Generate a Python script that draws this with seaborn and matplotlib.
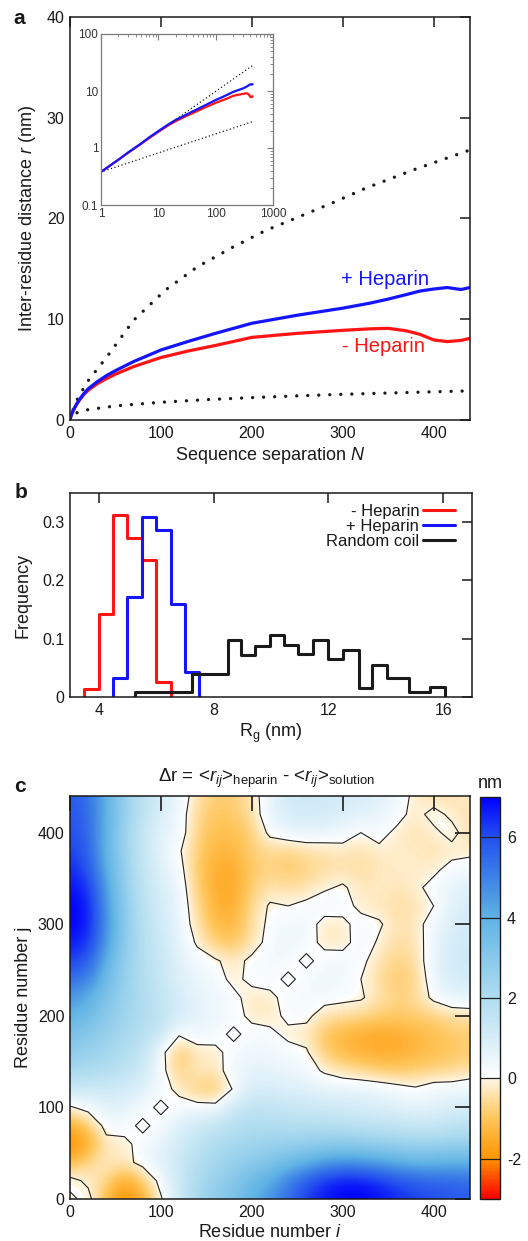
import numpy as np
import matplotlib
matplotlib.use("Agg")
import matplotlib.pyplot as plt
import seaborn as sns
from matplotlib.colors import LinearSegmentedColormap, Normalize
from matplotlib.ticker import LogLocator, NullFormatter, FixedLocator, FixedFormatter

# ---------------------------------------------------------------- data
# (a) mean inter-residue distance vs. sequence separation
separation = [0, 1, 2, 3, 5, 7, 10, 15, 20, 30, 40, 50, 70, 100, 130, 160, 200,
              250, 300, 330, 350, 370, 385, 400, 415, 430, 440]
r_plus_heparin = [0, 0.38, 0.62, 0.84, 1.2, 1.55, 1.98, 2.6, 3.1, 3.8, 4.4, 4.9, 5.8,
                  6.95, 7.8, 8.6, 9.6, 10.4, 11.1, 11.6, 12.0, 12.45, 12.8, 13.0,
                  13.15, 12.95, 13.15]
r_minus_heparin = [0, 0.38, 0.62, 0.83, 1.18, 1.5, 1.92, 2.5, 2.95, 3.6, 4.1, 4.55, 5.3,
                   6.2, 6.85, 7.4, 8.2, 8.6, 8.9, 9.05, 9.1, 8.85, 8.5, 7.95,
                   7.78, 7.9, 8.1]

# reference chains (dotted)
coil_sep = [0, 5, 10, 20, 40, 70, 105, 140, 180, 215, 250, 290, 325, 380, 440]
coil_r = [0, 1.5, 2.4, 3.9, 6.2, 9.9, 12.9, 15.2, 17.2, 18.8, 20.1, 21.6, 23.0, 24.9, 26.8]
globule_sep = [0, 1, 5, 20, 50, 100, 150, 200, 250, 300, 350, 400, 440]
globule_r = [0, 0.38, 0.65, 1.03, 1.40, 1.76, 2.02, 2.22, 2.40, 2.55, 2.68, 2.80, 2.89]

# inset scaling lines (log-log)
inset_line_sep = [1, 440]
inset_coil_r = [0.38, 28.0]
inset_globule_r = [0.38, 2.9]

# (b) radius of gyration distributions
minus_edges = [3.5, 4.0, 4.5, 5.0, 5.5, 6.0, 6.5]
minus_freq = [0.013, 0.143, 0.312, 0.272, 0.235, 0.026]
plus_edges = [4.5, 5.0, 5.5, 6.0, 6.5, 7.0, 7.5]
plus_freq = [0.032, 0.172, 0.309, 0.287, 0.160, 0.043]
coil_edges = [5.25, 7.25, 8.5, 8.95, 9.45, 9.95, 10.45, 10.95, 11.45, 12.0, 12.5,
              13.05, 13.5, 14.05, 14.8, 15.55, 16.05]
coil_freq = [0.008, 0.040, 0.098, 0.072, 0.088, 0.106, 0.089, 0.073, 0.098, 0.066,
             0.081, 0.015, 0.055, 0.032, 0.009, 0.018]

# (c) distance difference map, sampled every 20 residues; row k holds
# residue j = 20k against residues i = 0, 20, ..., j (the map is symmetric)
residue_grid = list(range(0, 441, 20))
delta_r_rows = [
    [-0.2],
    [0.3, -0.2],
    [-1.3, -0.6, -0.2],
    [-2.1, -1.6, -0.3, -0.2],
    [-1.5, -0.9, 0.3, 0.3, -0.2],
    [-0.1, 0.3, 0.8, 0.6, 0.3, -0.2],
    [1.3, 1.2, 1.2, 1.1, 0.8, 0.3, -0.2],
    [2.2, 2.1, 1.9, 1.6, 1.2, 0.3, -0.8, -0.2],
    [2.8, 2.6, 2.3, 2.0, 1.5, 0.3, -1.0, -0.3, -0.2],
    [3.3, 3.0, 2.6, 2.2, 1.8, 1.3, 0.1, 0.4, 0.3, -0.2],
    [4.0, 3.6, 2.9, 2.4, 2.0, 1.6, 1.0, 0.7, 0.4, 0.3, -0.2],
    [4.6, 4.1, 3.2, 2.5, 2.0, 1.5, 1.0, 0.6, 0.4, 0.2, -0.3, -0.2],
    [5.4, 5.0, 3.6, 2.6, 1.9, 1.4, 0.8, 0.5, 0.3, -0.2, 0.2, 0.3, -0.2],
    [6.2, 5.8, 4.0, 2.7, 1.9, 1.3, 0.8, 0.3, 0.1, -0.3, 0.2, 0.3, 0.3, -0.2],
    [6.7, 6.4, 4.5, 2.8, 1.9, 1.2, 0.6, -0.1, -0.8, -1.0, -0.4, 0.3, 0.4, 0.3, -0.2],
    [7.0, 6.7, 4.7, 2.9, 1.8, 1.1, 0.6, -0.4, -1.2, -1.3, -0.5, 0.2, 0.3, 0.4, -0.3, -0.2],
    [7.0, 6.7, 4.6, 2.8, 1.7, 1.0, 0.6, -0.6, -1.4, -1.5, -0.6, 0.1, 0.0, 0.2, 0.4,
     0.3, -0.2],
    [6.8, 6.4, 4.4, 2.7, 1.6, 0.9, 0.5, -0.8, -1.5, -1.6, -0.8, -0.4, -0.5, -0.4, -0.1,
     0.1, -0.3, -0.2],
    [6.5, 6.0, 4.1, 2.6, 1.5, 0.8, 0.3, -0.9, -1.5, -1.5, -0.9, -0.7, -0.9, -0.7, -0.5,
     -0.4, -0.5, -0.3, -0.2],
    [6.2, 5.7, 3.9, 2.5, 1.4, 0.6, 0.1, -0.8, -1.3, -1.3, -0.8, -0.6, -0.7, -0.5, -0.4,
     -0.3, -0.4, -0.2, -0.2, -0.2],
    [6.0, 5.6, 3.9, 2.5, 1.4, 0.7, 0.4, -0.7, -1.1, -1.1, -0.8, 0.2, 0.5, 0.6, 0.5, 0.4,
     0.0, 0.3, -0.2, -0.4, -0.2],
    [5.9, 5.5, 4.0, 2.6, 1.6, 0.9, 0.4, -0.6, -1.0, -0.9, -0.5, 0.6, 1.0, 1.1, 1.0, 0.9,
     0.7, 0.6, 0.3, -0.3, 0.3, -0.2],
    [5.8, 5.4, 4.0, 2.6, 1.7, 1.0, 0.5, -0.4, -0.8, -0.8, -0.4, 0.6, 1.1, 1.3, 1.2, 1.1,
     1.0, 0.8, 0.4, -0.2, -0.5, -0.4, -0.2],
]
colorbar_ticks = [-2, 0, 2, 4, 6]

# ---------------------------------------------------------------- style
sns.set_style("white")
plt.rcParams["font.family"] = ["Liberation Sans", "DejaVu Sans"]
plt.rcParams["mathtext.fontset"] = "custom"
plt.rcParams["mathtext.rm"] = "Liberation Sans"
plt.rcParams["mathtext.it"] = "Liberation Sans:italic"
plt.rcParams["mathtext.bf"] = "Liberation Sans:bold"
plt.rcParams["axes.unicode_minus"] = False
plt.rcParams["text.color"] = "#1a1a1a"
plt.rcParams["axes.labelcolor"] = "#1a1a1a"
plt.rcParams["xtick.color"] = "#1a1a1a"
plt.rcParams["ytick.color"] = "#1a1a1a"

BLUE = "#1414ff"
RED = "#ff1414"
INK = "#1a1a1a"

W, H = 528, 1241
fig = plt.figure(figsize=(W / 100, H / 100), dpi=100)


def box(left, top, right, bottom):
    return [left / W, 1 - bottom / H, (right - left) / W, (bottom - top) / H]


def frame(ax, lw=1.1, color=INK):
    for s in ax.spines.values():
        s.set_visible(True)
        s.set_linewidth(lw)
        s.set_color(color)


# ---------------------------------------------------------------- (a)
ax_a = fig.add_axes(box(70, 17, 470, 420))
frame(ax_a)
dot_big = dict(linestyle=(0, (0.01, 3.3)), dash_capstyle="round", linewidth=2.4)
sns.lineplot(x=coil_sep, y=coil_r, ax=ax_a, color=INK, estimator=None, **dot_big)
sns.lineplot(x=globule_sep, y=globule_r, ax=ax_a, color=INK, estimator=None, **dot_big)
sns.lineplot(x=separation, y=r_minus_heparin, ax=ax_a, color=RED, lw=2.3, estimator=None)
sns.lineplot(x=separation, y=r_plus_heparin, ax=ax_a, color=BLUE, lw=2.3, estimator=None)
ax_a.set_xlim(0, 440)
ax_a.set_ylim(0, 40)
ax_a.set_xticks([0, 100, 200, 300, 400])
ax_a.set_yticks([0, 10, 20, 30, 40])
ax_a.tick_params(direction="in", length=7, width=1.1, labelsize=11.5, top=True,
                 right=True, pad=4)
ax_a.set_xlabel("Sequence separation $N$", fontsize=13, labelpad=3)
ax_a.set_ylabel("Inter-residue distance $r$ (nm)", fontsize=13, labelpad=6)
ax_a.text(347, 13.9, "+ Heparin", color=BLUE, fontsize=14.5, ha="center", va="center")
ax_a.text(345, 7.3, "- Heparin", color=RED, fontsize=14.5, ha="center", va="center")

# inset: same curves on log-log axes
ax_in = fig.add_axes(box(101, 34, 273, 205))
frame(ax_in, lw=0.9, color="#7a7a7a")
dot_small = dict(linestyle=(0, (0.01, 2.4)), dash_capstyle="round", linewidth=1.1)
sns.lineplot(x=inset_line_sep, y=inset_coil_r, ax=ax_in, color=INK, estimator=None,
             **dot_small)
sns.lineplot(x=inset_line_sep, y=inset_globule_r, ax=ax_in, color=INK, estimator=None,
             **dot_small)
sns.lineplot(x=separation[1:], y=r_minus_heparin[1:], ax=ax_in, color=RED, lw=1.6,
             estimator=None)
sns.lineplot(x=separation[1:], y=r_plus_heparin[1:], ax=ax_in, color=BLUE, lw=1.6,
             estimator=None)
ax_in.set_xscale("log")
ax_in.set_yscale("log")
ax_in.set_xlim(1, 1000)
ax_in.set_ylim(0.1, 100)
ax_in.xaxis.set_major_locator(FixedLocator([1, 10, 100, 1000]))
ax_in.xaxis.set_major_formatter(FixedFormatter(["1", "10", "100", "1000"]))
ax_in.yaxis.set_major_locator(FixedLocator([0.1, 1, 10, 100]))
ax_in.yaxis.set_major_formatter(FixedFormatter(["0.1", "1", "10", "100"]))
for axis in (ax_in.xaxis, ax_in.yaxis):
    axis.set_minor_locator(LogLocator(base=10, subs=np.arange(2, 10)))
    axis.set_minor_formatter(NullFormatter())
ax_in.tick_params(which="both", direction="in", color="#7a7a7a", top=True, right=True,
                  labelsize=8.5, labelcolor="#333333", pad=2)
ax_in.tick_params(which="major", length=4, width=0.8)
ax_in.tick_params(which="minor", length=2, width=0.6)
ax_in.set_xlabel("")
ax_in.set_ylabel("")

# ---------------------------------------------------------------- (b)
ax_b = fig.add_axes(box(70, 493, 472, 697))
frame(ax_b)
hist_series = [
    ("- Heparin", minus_edges, minus_freq, RED),
    ("+ Heparin", plus_edges, plus_freq, BLUE),
    ("Random coil", coil_edges, coil_freq, INK),
]
for label, edges, freq, color in hist_series:
    centers = [(a + b) / 2 for a, b in zip(edges[:-1], edges[1:])]
    # zero-height bins on both sides close the outline down to the baseline
    padded = [edges[0] - 0.01] + list(edges) + [edges[-1] + 0.01]
    sns.histplot(x=centers, weights=freq, bins=padded, element="step", fill=False,
                 color=color, linewidth=2.2, ax=ax_b, label=label)
ax_b.set_xlim(3, 17)
ax_b.set_ylim(0, 0.35)
ax_b.set_xticks([4, 8, 12, 16])
ax_b.set_yticks([0, 0.1, 0.2, 0.3])
ax_b.set_yticklabels(["0", "0.1", "0.2", "0.3"])
ax_b.tick_params(direction="in", length=7, width=1.1, labelsize=11.5, top=True,
                 right=True, pad=4)
ax_b.set_xlabel("R$_\\mathrm{g}$ (nm)", fontsize=13, labelpad=3)
ax_b.set_ylabel("Frequency", fontsize=13, labelpad=8)
ax_b.legend(loc="upper right", frameon=False, markerfirst=False, fontsize=12,
            handlelength=1.95, handletextpad=0.2, labelspacing=0.0,
            borderaxespad=0.25, bbox_to_anchor=(0.985, 1.0))

# ---------------------------------------------------------------- (c)
n = len(residue_grid)
delta_r = np.zeros((n, n))
for k, row in enumerate(delta_r_rows):
    for m, v in enumerate(row):
        delta_r[k, m] = v
        delta_r[m, k] = v

cmap_anchor = [(-3, "#ff0000"), (-2, "#ff9500"), (-1, "#ffc65c"), (-0.02, "#fff6e4"),
               (0, "#ffffff"), (1, "#d6edf8"), (2, "#b0ddf0"), (4, "#60b3e4"),
               (5, "#3d82e6"), (6, "#2450ef"), (7, "#0000ff")]
cmap = LinearSegmentedColormap.from_list(
    "delta_r", [((v + 3) / 10, c) for v, c in cmap_anchor])
norm = Normalize(vmin=-3, vmax=7)

ax_c = fig.add_axes(box(70, 796, 470, 1199))
frame(ax_c)
step = residue_grid[1] - residue_grid[0]
im = ax_c.imshow(delta_r, origin="lower", cmap=cmap, norm=norm,
                 interpolation="bicubic", aspect="auto",
                 extent=(residue_grid[0] - step / 2, residue_grid[-1] + step / 2,
                         residue_grid[0] - step / 2, residue_grid[-1] + step / 2))
ax_c.contour(residue_grid, residue_grid, delta_r, levels=[0], colors="#222222",
             linewidths=0.8)
ax_c.set_xlim(0, 440)
ax_c.set_ylim(0, 440)
ax_c.set_xticks([0, 100, 200, 300, 400])
ax_c.set_yticks([0, 100, 200, 300, 400])
ax_c.tick_params(direction="in", length=11, width=1.2, labelsize=11.5, top=True,
                 right=True, pad=4)
ax_c.set_xlabel("Residue number $i$", fontsize=13, labelpad=3)
ax_c.set_ylabel("Residue number j", fontsize=13, labelpad=4)

cax = fig.add_axes(box(480, 797, 500, 1199))
cb = fig.colorbar(im, cax=cax, ticks=colorbar_ticks)
cb.outline.set_linewidth(1.0)
cb.outline.set_edgecolor(INK)
cax.tick_params(length=0, labelsize=11.5, pad=5)
for v in colorbar_ticks:
    cax.axhline(v, color="#222222", lw=0.9)

fig.text(490 / W, 1 - 783 / H, "nm", fontsize=13, ha="center", va="center")
fig.text(266 / W, 1 - 778 / H,
         "$\\Delta$r = <$r_{ij}$>$_{\\mathrm{heparin}}$ - <$r_{ij}$>$_{\\mathrm{solution}}$",
         fontsize=13.5, ha="center", va="center")

# panel letters
for letter, (x, y) in zip("abc", [(19, 18), (21, 493), (20, 787)]):
    fig.text(x / W, 1 - y / H, letter, fontsize=15, fontweight="bold",
             ha="center", va="center")

fig.savefig("out.png", dpi=100)
